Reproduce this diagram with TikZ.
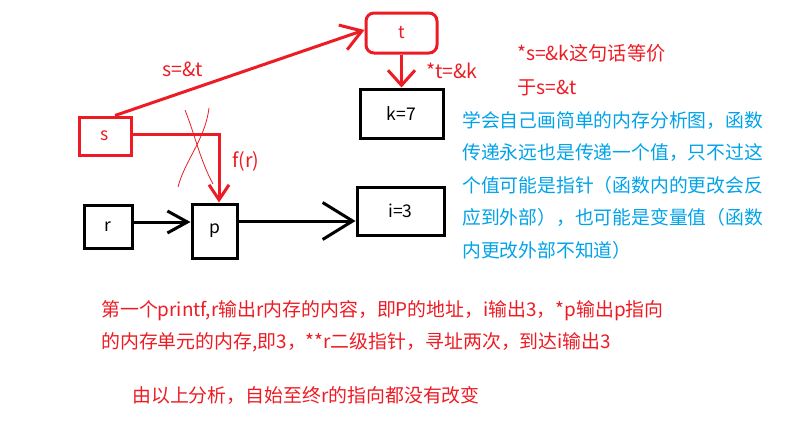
\documentclass[tikz,border=0pt]{standalone}
\usepackage{fontspec}
\setmainfont{Noto Sans CJK SC}
\usetikzlibrary{arrows.meta}
\definecolor{paintred}{HTML}{ED1C24}
\definecolor{paintblue}{HTML}{00A2E8}
\tikzset{
  membox/.style={draw=black, line width=3pt, inner sep=0pt, font=\fontsize{17.5}{17.5}\selectfont},
  redbox/.style={membox, draw=paintred, text=paintred},
  redline/.style={draw=paintred, line width=3pt},
  blkline/.style={draw=black, line width=3pt},
  redlabel/.style={text=paintred, inner sep=0pt, font=\fontsize{19.5}{19.5}\selectfont},
  note/.style={inner sep=0pt, align=left, anchor=west}
}
\begin{document}
\begin{tikzpicture}[x=1pt, y=-1pt]
\useasboundingbox (0,0) rectangle (795,431);

% memory cells
\node[redbox, rounded corners=8pt, minimum width=71pt, minimum height=40pt] (t) at (401.5,33) {t};
\node[membox, minimum width=83pt, minimum height=49pt] (k) at (401.5,113.5) {k=7};
\node[redbox, minimum width=52pt, minimum height=38pt] (s) at (105,136) {s};
\node[membox, minimum width=48pt, minimum height=43pt] (r) at (108,226.5) {r};
\node[membox, minimum width=45pt, minimum height=54pt] (p) at (214.5,231) {p};
\node[membox, minimum width=87pt, minimum height=48pt] (i) at (400.5,211) {i=3};

% pointers
\draw[redline, -{Straight Barb[length=20pt, width=26pt]}] ([xshift=10pt]s.north) -- ([yshift=3pt]t.west)
  node[redlabel, pos=0.27, above=14pt] (lst) {s=\&t};
\draw[redline, -{Straight Barb[length=15pt, width=27pt]}] (t.south) -- (k.north)
  node[redlabel, midway, right=23pt] (ltk) {*t=\&k};
\draw[redline, -{Straight Barb[length=15pt, width=20pt]}] ([yshift=2pt]s.east) -| ([xshift=4.5pt]p.north)
  node[redlabel, pos=0.7, right=12pt] (lfr) {f(r)};
\draw[blkline, -{Straight Barb[length=20pt, width=22pt]}] ([yshift=4.5pt]r.east) -- ([yshift=4.5pt]r.east -| p.west);
\draw[blkline, -{Straight Barb[length=30pt, width=37pt]}] ([yshift=10pt]p.east) -- ([yshift=10pt]p.east -| i.west);

% crossed out
\draw[paintred, line width=0.8pt] (185,110) .. controls (195,135) and (200,160) .. (213,184);
\draw[paintred, line width=0.8pt] (209,108) .. controls (205,140) and (185,160) .. (178,187);

% notes
\node[note, text=paintred, font=\fontsize{19.2}{34}\selectfont] (n1) at (517,70)
  {*s=\&k这句话等价\\于s=\&t};
\node[note, text=paintblue, font=\fontsize{18.8}{32.5}\selectfont] (n2) at (462,185)
  {学会自己画简单的内存分析图，函数\\传递永远也是传递一个值，只不过这\\个值可能是指针（函数内的更改会反\\应到外部），也可能是变量值（函数\\内更改外部不知道）};
\node[note, text=paintred, font=\fontsize{18.9}{32}\selectfont] (n3) at (101,326)
  {第一个printf,r输出r内存的内容，即P的地址，i输出3，*p输出p指向\\的内存单元的内存,即3，**r二级指针，寻址两次，到达i输出3};
\node[note, text=paintred, font=\fontsize{18.9}{32}\selectfont] (n4) at (132,395)
  {由以上分析，自始至终r的指向都没有改变};
\end{tikzpicture}
\end{document}
